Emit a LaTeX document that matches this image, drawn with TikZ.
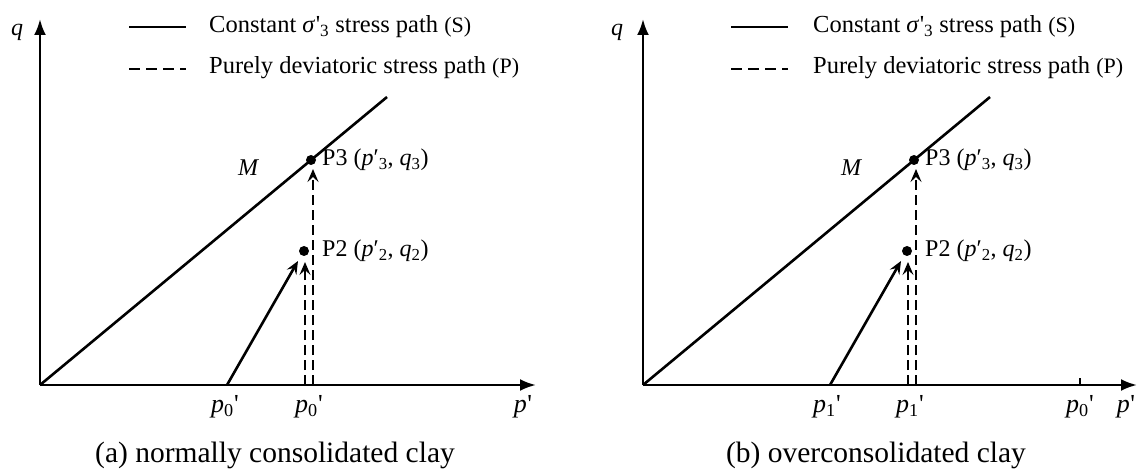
\documentclass[tikz,border=0pt]{standalone}
\usepackage{fontspec}
\setmainfont{Liberation Serif}
\usetikzlibrary{arrows.meta}
\newcommand{\pr}{\kern0.5pt\textquotesingle}
\begin{document}
\begin{tikzpicture}[x=1pt,y=-1pt,
  axis/.style={line width=2.6pt,-{Latex[length=16pt,width=12pt]}},
  pathline/.style={line width=2.6pt},
  dpath/.style={line width=2.6pt,dash pattern=on 10pt off 5pt},
  parrow/.style={-{Stealth[length=13pt,width=11pt,inset=5pt]}},
  dot/.style={circle,fill=black,inner sep=0pt,minimum size=10pt},
  lbl/.style={font=\fontsize{24}{28}\selectfont,inner sep=0pt},
  lgd/.style={font=\fontsize{24.5}{28}\selectfont,inner sep=0pt,anchor=west},
  captxt/.style={font=\fontsize{29.5}{34}\selectfont,inner sep=0pt},
  ticklbl/.style={font=\fontsize{26}{28}\selectfont,inner sep=0pt}]
\useasboundingbox (0,0) rectangle (1137,470);
% ---------------- panel (a)
\coordinate (aO) at (40,385);
\coordinate (aY) at (40,19);
\coordinate (aX) at (536,385);
\coordinate (aM) at (387,97);
\coordinate (aA0) at (227,385);
\coordinate (aD1) at (305,385);
\coordinate (aD2) at (313,385);
\coordinate (aT2) at (305,262);
\coordinate (aT3) at (313,169);
\coordinate (aS2) at (298,261);
\node[dot] (aP3) at (311,160) {};
\node[dot] (aP2) at (304,251) {};
\draw[axis] (aO) -- (aY);
\draw[axis] (aO) -- (aX);
\node[lbl] (aq) at (17,32) {\itshape q};
\draw[pathline] (aO) -- (aM);
\draw[pathline,parrow] (aA0) -- (aS2);
\draw[dpath,parrow] (aD1) -- (aT2);
\draw[dpath,parrow] (aD2) -- (aT3);
\node[lbl] (aMl) at (248,168) {\itshape M};
\node[lbl,anchor=west] (aP3l) at (322,160) {P3 (\textit{p}′\textsubscript{3}, \textit{q}\textsubscript{3})};
\node[lbl,anchor=west] (aP2l) at (322,251) {P2 (\textit{p}′\textsubscript{2}, \textit{q}\textsubscript{2})};
\coordinate (aL1a) at (129,27); \coordinate (aL1b) at (186,27);
\coordinate (aL2a) at (129,69); \coordinate (aL2b) at (186,69);
\draw[pathline] (aL1a) -- (aL1b);
\draw[dpath,dash pattern=on 11pt off 6pt] (aL2a) -- (aL2b);
\node[lgd] (aLt1) at (209,27) {Constant \textit{σ}\pr\textsubscript{3} stress path {\fontsize{22}{24}\selectfont(S)}};
\node[lgd] (aLt2) at (209,68) {Purely deviatoric stress path {\fontsize{22}{24}\selectfont(P)}};
\node[ticklbl] (at1) at (225,407) {\textit{p}\textsubscript{0}\pr};
\node[ticklbl] (at2) at (309,407) {\textit{p}\textsubscript{0}\pr};
\node[ticklbl] (at3) at (523,407) {\textit{p}\pr};
\node[captxt] (acap) at (275,455) {(a) normally consolidated clay};
% ---------------- panel (b)
\coordinate (bO) at (643,385);
\coordinate (bY) at (643,19);
\coordinate (bX) at (1137,385);
\coordinate (bM) at (990,97);
\coordinate (bA0) at (830,385);
\coordinate (bD1) at (908,385);
\coordinate (bD2) at (916,385);
\coordinate (bT2) at (908,262);
\coordinate (bT3) at (916,169);
\coordinate (bS2) at (901,261);
\coordinate (bTk) at (1080,385);
\coordinate (bTk2) at (1080,378);
\node[dot] (bP3) at (914,160) {};
\node[dot] (bP2) at (907,251) {};
\draw[axis] (bO) -- (bY);
\draw[axis] (bO) -- (bX);
\draw[line width=1.5pt] (bTk) -- (bTk2);
\node[lbl] (bq) at (617,32) {\itshape q};
\draw[pathline] (bO) -- (bM);
\draw[pathline,parrow] (bA0) -- (bS2);
\draw[dpath,parrow] (bD1) -- (bT2);
\draw[dpath,parrow] (bD2) -- (bT3);
\node[lbl] (bMl) at (851,168) {\itshape M};
\node[lbl,anchor=west] (bP3l) at (925,160) {P3 (\textit{p}′\textsubscript{3}, \textit{q}\textsubscript{3})};
\node[lbl,anchor=west] (bP2l) at (925,251) {P2 (\textit{p}′\textsubscript{2}, \textit{q}\textsubscript{2})};
\coordinate (bL1a) at (731,27); \coordinate (bL1b) at (788,27);
\coordinate (bL2a) at (731,69); \coordinate (bL2b) at (788,69);
\draw[pathline] (bL1a) -- (bL1b);
\draw[dpath,dash pattern=on 11pt off 6pt] (bL2a) -- (bL2b);
\node[lgd] (bLt1) at (813,27) {Constant \textit{σ}\pr\textsubscript{3} stress path {\fontsize{22}{24}\selectfont(S)}};
\node[lgd] (bLt2) at (813,68) {Purely deviatoric stress path {\fontsize{22}{24}\selectfont(P)}};
\node[ticklbl] (bt1) at (827,407) {\textit{p}\textsubscript{1}\pr};
\node[ticklbl] (bt2) at (910,407) {\textit{p}\textsubscript{1}\pr};
\node[ticklbl] (bt3) at (1080,407) {\textit{p}\textsubscript{0}\pr};
\node[ticklbl] (bt4) at (1126,407) {\textit{p}\pr};
\node[captxt] (bcap) at (876,455) {(b) overconsolidated clay};
\end{tikzpicture}
\end{document}
